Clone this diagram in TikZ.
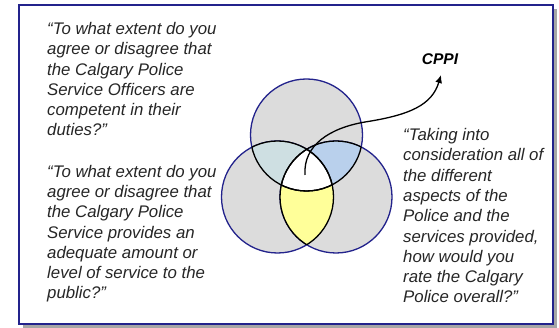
\documentclass[tikz,border=0pt]{standalone}
\usepackage{fontspec}
\setmainfont{Liberation Sans}
\usetikzlibrary{arrows.meta}
\definecolor{navy}{HTML}{23238C}
\definecolor{shadowgray}{HTML}{A6A6A6}
\definecolor{vgray}{HTML}{DCDCDC}
\definecolor{vteal}{HTML}{CEDFE2}
\definecolor{vblue}{HTML}{B9D0EC}
\definecolor{vyellow}{HTML}{FFFF99}
\tikzset{
  qtext/.style={font=\itshape\fontsize{16.8}{20.3}\selectfont, align=left, inner sep=0pt, anchor=base west, text=black!85},
  cppistyle/.style={font=\bfseries\itshape\fontsize{15.5}{18}\selectfont, inner sep=0pt, anchor=base},
  venn/.style={fill=vgray, draw=navy, line width=1.3pt},
  inner/.style={draw=black, line width=1.3pt}
}
\begin{document}
\begin{tikzpicture}[x=1pt,y=-1pt]
\useasboundingbox (0,0) rectangle (559,328);
% frame with shadow
\fill[shadowgray] (23,9) rectangle (557,328);
\draw[navy, line width=2pt, fill=white] (19,5) rectangle (553,324);
% circles
\def\rr{56pt}
\coordinate (ct) at (306.5,135);
\coordinate (cl) at (277.5,197);
\coordinate (cr) at (336,197);
\draw[venn] (ct) circle[radius=\rr];
\draw[venn] (cl) circle[radius=\rr];
\draw[venn] (cr) circle[radius=\rr];
\begin{scope}
  \clip (ct) circle[radius=\rr];
  \fill[vteal] (cl) circle[radius=\rr];
  \fill[vblue] (cr) circle[radius=\rr];
\end{scope}
\begin{scope}
  \clip (cl) circle[radius=\rr];
  \fill[vyellow] (cr) circle[radius=\rr];
\end{scope}
\begin{scope}
  \clip (ct) circle[radius=\rr];
  \clip (cl) circle[radius=\rr];
  \fill[white] (cr) circle[radius=\rr];
\end{scope}
% inner black arcs
\begin{scope}
  \clip (ct) circle[radius=\rr];
  \draw[inner] (cl) circle[radius=\rr];
  \draw[inner] (cr) circle[radius=\rr];
\end{scope}
\begin{scope}
  \clip (cl) circle[radius=\rr];
  \draw[inner] (ct) circle[radius=\rr];
  \draw[inner] (cr) circle[radius=\rr];
\end{scope}
\begin{scope}
  \clip (cr) circle[radius=\rr];
  \draw[inner] (ct) circle[radius=\rr];
  \draw[inner] (cl) circle[radius=\rr];
\end{scope}
% texts (anchored at the baseline of the last line)
\node[qtext] (q1) at (47,136) {“To what extent do you\\agree or disagree that\\the Calgary Police\\Service Officers are\\competent in their\\duties?”};
\node[qtext] (q2) at (47,299) {“To what extent do you\\agree or disagree that\\the Calgary Police\\Service provides an\\adequate amount or\\level of service to the\\public?”};
\node[qtext] (q3) at (403,303) {“Taking into\\consideration all of\\the different\\aspects of the\\Police and the\\services provided,\\how would you\\rate the Calgary\\Police overall?”};
\node[cppistyle] (cppi) at (440,65) {CPPI};
% arrow
\coordinate (start) at (305,175);
\coordinate (tip) at (441,75);
\draw[line width=1.3pt, -{Latex[length=8pt,width=7pt]}] (start) .. controls (303,145) and (330,128) .. (365,122) .. controls (410,115) and (432,105) .. (tip);
\end{tikzpicture}
\end{document}
